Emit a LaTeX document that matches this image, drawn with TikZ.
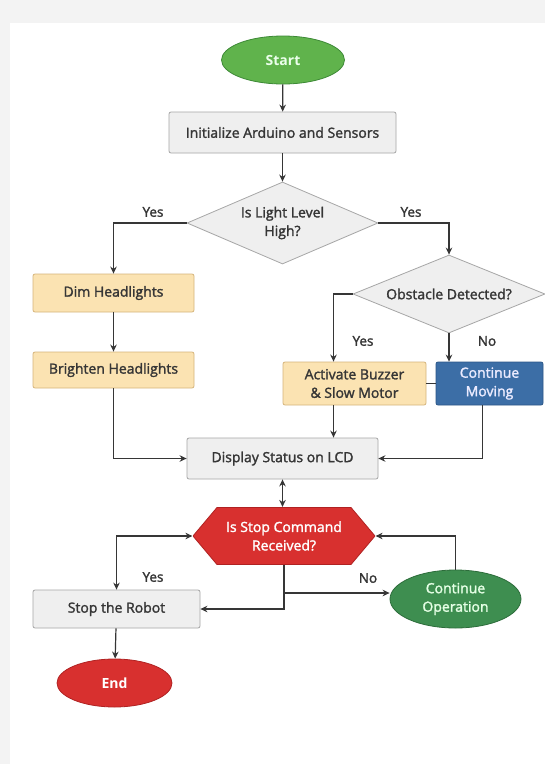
\documentclass[tikz,border=0pt]{standalone}
\usepackage{fontspec}
\setmainfont{Open Sans}
\newfontfamily\semifont{Open Sans}[FakeBold=1.8]
\usetikzlibrary{shapes.geometric,arrows.meta}

\definecolor{stripgray}{HTML}{F3F3F3}
\definecolor{linedark}{HTML}{363636}
\definecolor{boxfill}{HTML}{EFEFEF}
\definecolor{boxline}{HTML}{A6A6A6}
\definecolor{orfill}{HTML}{FBE3B2}
\definecolor{orline}{HTML}{D6B57C}
\definecolor{startgreen}{HTML}{60B34C}
\definecolor{startline}{HTML}{3E8A37}
\definecolor{opgreen}{HTML}{3E8E50}
\definecolor{opline}{HTML}{2C6C3A}
\definecolor{movblue}{HTML}{3C6EA6}
\definecolor{movline}{HTML}{2B5787}
\definecolor{stopred}{HTML}{D8302F}
\definecolor{stopline}{HTML}{B02222}

\begin{document}
\begin{tikzpicture}[x=1pt,y=-1pt,->,>={Stealth[length=7pt,width=6.5pt]},line width=1.2pt,draw=linedark,
    font=\semifont\fontsize{14}{18.5}\selectfont,
    every node/.style={text=linedark,align=center,inner sep=0pt},
    grey box/.style={rectangle,rounded corners=2pt,draw=boxline,line width=0.8pt,fill=boxfill},
    warm box/.style={rectangle,rounded corners=2pt,draw=orline,line width=0.8pt,fill=orfill},
    blue box/.style={rectangle,rounded corners=2pt,draw=movline,line width=0.8pt,fill=movblue,text=blue!8},
    question/.style={diamond,draw=boxline,line width=0.8pt,fill=boxfill,shape aspect=2.4},
    oval/.style={ellipse,line width=0.8pt,text=white},
    hexa/.style={rectangle,text=white,
        path picture={\fill[stopred,draw=stopline,line width=0.8pt]
            (path picture bounding box.west) -- ([xshift=24pt]path picture bounding box.north west)
            -- ([xshift=-24pt]path picture bounding box.north east) -- (path picture bounding box.east)
            -- ([xshift=-24pt]path picture bounding box.south east) -- ([xshift=24pt]path picture bounding box.south west)
            -- cycle;}},
    lbl/.style={font=\semifont\fontsize{13.5}{16}\selectfont}]

    % page
    \fill[stripgray,draw=none] (0,0) rectangle (545,764);
    \fill[white,draw=none] (10,23) rectangle (545,764);
    \useasboundingbox (0,0) rectangle (545,764);

    \node[oval,draw=startline,fill=startgreen,text=green!8,minimum width=123pt,minimum height=48pt,font=\bfseries\fontsize{14}{18.5}\selectfont] (start) at (283,60) {Start};
    \node[grey box,minimum width=227pt,minimum height=41pt] (init) at (282.5,132.5) {Initialize Arduino and Sensors};
    \node[question,minimum width=191pt,minimum height=82pt] (light) at (282.5,223) {Is Light Level\\High?};

    \node[warm box,minimum width=161pt,minimum height=38pt] (dim) at (113.5,293) {Dim Headlights};
    \node[warm box,minimum width=161pt,minimum height=36pt] (bright) at (113.5,370) {Brighten Headlights};

    \node[question,minimum width=192pt,minimum height=78pt] (obst) at (449,294) {Obstacle Detected?};
    \node[warm box,minimum width=143pt,minimum height=43pt] (buzz) at (354.5,383.5) {Activate Buzzer\\\& Slow Motor};
    \node[blue box,minimum width=107pt,minimum height=43pt] (moving) at (489.5,383.5) {Continue\\Moving};

    \node[grey box,minimum width=191pt,minimum height=41pt] (lcd) at (282.5,458.5) {Display Status on LCD};
    \node[hexa,minimum width=182pt,minimum height=57pt] (stopq) at (284,536) {Is Stop Command\\Received?};

    \node[grey box,minimum width=167pt,minimum height=38pt] (robot) at (116.5,609) {Stop the Robot};
    \node[oval,draw=opline,fill=opgreen,text=green!10,minimum width=131pt,minimum height=58pt] (goon) at (455.5,599) {Continue\\Operation};
    \node[oval,draw=stopline,fill=stopred,minimum width=115pt,minimum height=48pt,font=\bfseries\fontsize{14}{18.5}\selectfont] (finish) at (114.5,683) {End};

    \coordinate (split) at (284,593);

    % labels
    \node[lbl] (y1) at (153,212) {Yes};
    \node[lbl] (y2) at (411,212) {Yes};
    \node[lbl] (y3) at (363,341) {Yes};
    \node[lbl] (n1) at (487,341) {No};
    \node[lbl] (y4) at (153,577) {Yes};
    \node[lbl] (n2) at (368,578) {No};

    % arrows
    \draw (start) -- (init);
    \draw (init) -- (light);
    \draw (light.west) -| (dim.north);
    \draw (light.east) -| (obst.north);
    \draw (dim) -- (bright);
    \draw (bright.south) |- (lcd.west);
    \draw (obst.west) -| ([xshift=-21pt]buzz.north);
    \draw (obst.south) -- (obst.south |- moving.north);
    \draw[-] (buzz.east) -- (moving.west);
    \draw ([xshift=-21pt]buzz.south) -- ([xshift=-21pt]buzz.south |- lcd.north);
    \draw ([xshift=-7pt]moving.south) |- (lcd.east);
    \draw[<->] (lcd.south) -- (lcd.south |- stopq.north);
    \draw[<->] (stopq.west) -| (robot.north);
    \draw (stopq.south) |- (robot.east);
    \draw (split) -- (split -| goon.west);
    \draw (goon.north) |- (stopq.east);
    \draw (robot) -- (finish);
\end{tikzpicture}
\end{document}
